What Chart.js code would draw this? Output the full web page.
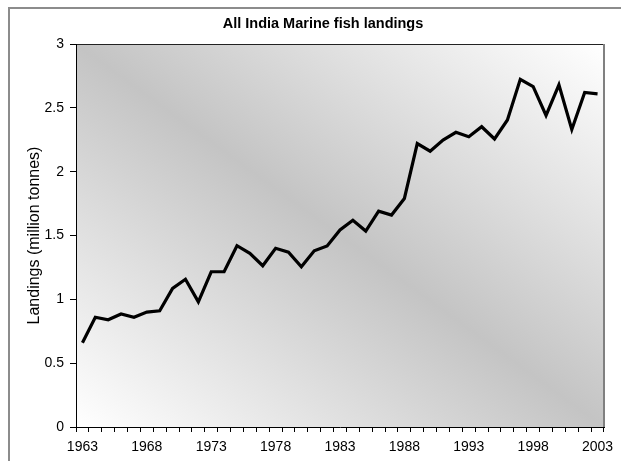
<!DOCTYPE html>
<html>
<head>
<meta charset="utf-8">
<script src="https://cdn.jsdelivr.net/npm/chart.js@4/dist/chart.umd.min.js"></script>
<style>
  html, body { margin: 0; padding: 0; background: #ffffff; overflow: hidden; width: 621px; height: 461px; }
  #frame { position: absolute; left: 8px; top: 7px; width: 625px; height: 460px; border-left: 2px solid #8c8c8c; border-top: 2px solid #8c8c8c; }
  #wrap { position: absolute; left: 0; top: 0; width: 625px; height: 452px; }
  #title { position: absolute; left: 23px; width: 600px; top: 15px; text-align: center; font: bold 14.5px/17px "Liberation Sans", Arial, sans-serif; color: #000; white-space: nowrap; }
</style>
</head>
<body>
<div id="frame"><div id="wrap"><canvas id="c"></canvas></div></div>
<div id="title"></div>
<script>
const years = [1963,1964,1965,1966,1967,1968,1969,1970,1971,1972,1973,1974,1975,1976,1977,1978,1979,1980,1981,1982,1983,1984,1985,1986,1987,1988,1989,1990,1991,1992,1993,1994,1995,1996,1997,1998,1999,2000,2001,2002,2003];
const landings = [0.66,0.86,0.84,0.885,0.86,0.90,0.91,1.086,1.157,0.98,1.216,1.216,1.42,1.36,1.263,1.40,1.37,1.255,1.38,1.418,1.543,1.62,1.535,1.69,1.66,1.79,2.22,2.16,2.248,2.308,2.274,2.352,2.256,2.405,2.723,2.666,2.44,2.68,2.33,2.62,2.61];
const yTicks = [0, 0.5, 1, 1.5, 2, 2.5, 3];
const titleText = 'All India Marine fish landings';
const yTitle = 'Landings (million tonnes)';

document.getElementById('title').textContent = titleText;

const bgPlugin = {
  id: 'plotBg',
  beforeDraw(chart) {
    const {ctx, chartArea: a} = chart;
    const w = a.right - a.left, h = a.bottom - a.top;
    ctx.save();
    ctx.translate(a.left, a.top);
    ctx.scale(w, h);
    const g = ctx.createLinearGradient(0, 1, 1, 0);
    g.addColorStop(0, '#ffffff');
    g.addColorStop(0.5, '#c4c4c4');
    g.addColorStop(1, '#ffffff');
    ctx.fillStyle = g;
    ctx.fillRect(0, 0, 1, 1);
    ctx.restore();
    ctx.save();
    ctx.strokeStyle = '#222222';
    ctx.lineWidth = 1;
    ctx.beginPath();
    ctx.moveTo(a.left, a.top + 0.5);
    ctx.lineTo(a.right, a.top + 0.5);
    ctx.stroke();
    ctx.strokeStyle = '#808080';
    ctx.lineWidth = 2;
    ctx.beginPath();
    ctx.moveTo(a.right, a.top);
    ctx.lineTo(a.right, a.bottom);
    ctx.stroke();
    ctx.restore();
  }
};

new Chart(document.getElementById('c'), {
  type: 'line',
  data: {
    labels: years,
    datasets: [{
      data: landings,
      borderColor: '#000000',
      borderWidth: 3.2,
      pointRadius: 0,
      tension: 0,
      fill: false
    }]
  },
  options: {
    responsive: true,
    maintainAspectRatio: false,
    animation: false,
    devicePixelRatio: 1,
    layout: { padding: { left: 0, right: 31, top: 35, bottom: 0 } },
    plugins: {
      legend: { display: false },
      tooltip: { enabled: false },
      title: { display: false }
    },
    scales: {
      x: {
        type: 'category',
        offset: true,
        afterFit(s) { s.height = 34; },
        border: { display: true, color: '#000000', width: 1 },
        grid: { display: true, offset: true, drawOnChartArea: false, drawTicks: true, tickLength: 5, color: '#000000' },
        ticks: {
          autoSkip: false,
          maxRotation: 0,
          minRotation: 0,
          padding: 7,
          color: '#000000',
          font: { family: 'Liberation Sans, Arial, sans-serif', size: 14 },
          callback(v, i) { const y = years[i]; return (y - years[0]) % 5 === 0 ? String(y) : ''; }
        }
      },
      y: {
        min: 0,
        max: 3,
        afterFit(s) { s.width = 66; },
        afterBuildTicks(s) { s.ticks = yTicks.map(v => ({ value: v })); },
        border: { display: true, color: '#000000', width: 1 },
        grid: { display: true, drawOnChartArea: false, drawTicks: true, tickLength: 6, color: '#000000' },
        ticks: {
          padding: 6,
          color: '#000000',
          font: { family: 'Liberation Sans, Arial, sans-serif', size: 14 },
          callback(v) { return String(v); }
        },
        title: {
          display: true,
          text: yTitle,
          color: '#000000',
          font: { family: 'Liberation Sans, Arial, sans-serif', size: 16, lineHeight: 1.2 },
          padding: { top: 15, bottom: 0 }
        }
      }
    }
  },
  plugins: [bgPlugin]
});
</script>
</body>
</html>
